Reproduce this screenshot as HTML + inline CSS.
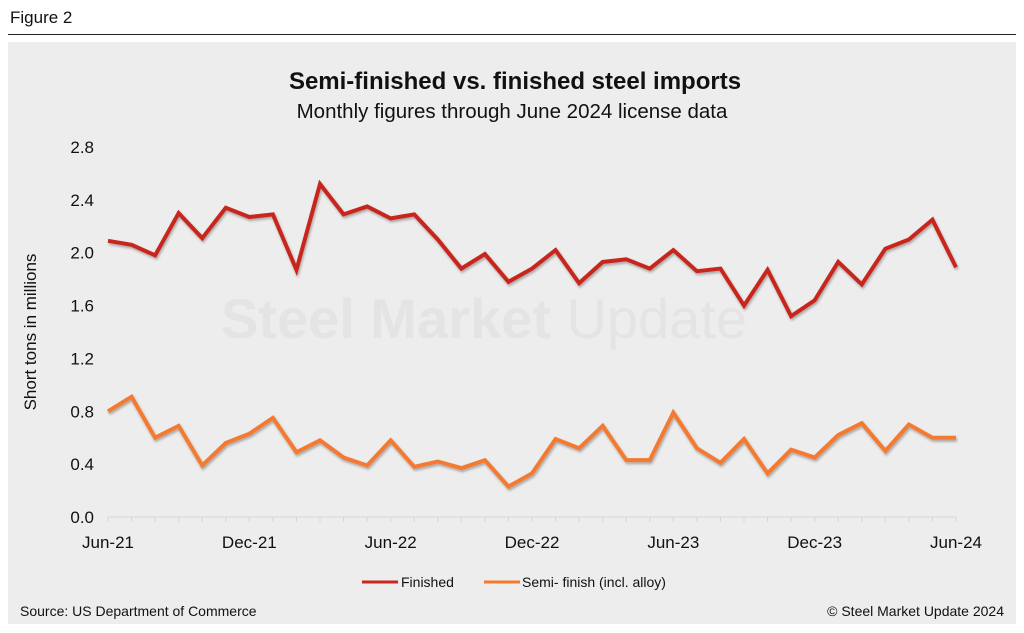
<!DOCTYPE html>
<html><head><meta charset="utf-8"><style>
body{margin:0;width:1024px;height:633px;background:#fff;font-family:"Liberation Sans",sans-serif;overflow:hidden}
</style></head><body>
<div style="position:absolute;left:10px;top:8px;font-size:17px;color:#111">Figure 2</div>
<div style="position:absolute;left:8px;top:34px;width:1008px;height:1px;background:#222"></div>
<div style="position:absolute;left:8px;top:42px;width:1008px;height:582px;background:#ededed"></div>
<svg width="1024" height="633" style="position:absolute;left:0;top:0" font-family="Liberation Sans, sans-serif">
<defs><filter id="sh" x="-5%" y="-20%" width="110%" height="140%"><feDropShadow dx="1" dy="2" stdDeviation="1.2" flood-color="#000" flood-opacity="0.3"/></filter></defs>
<text x="515" y="89" text-anchor="middle" font-size="24" font-weight="bold" fill="#111">Semi-finished vs. finished steel imports</text>
<text x="512" y="118" text-anchor="middle" font-size="20.5" fill="#111">Monthly figures through June 2024 license data</text>
<text x="484" y="338" text-anchor="middle" font-size="56" font-weight="bold" fill="#e4e4e4">Steel Market <tspan font-weight="normal">Update</tspan></text>
<text transform="translate(36,332) rotate(-90)" text-anchor="middle" font-size="17" fill="#111">Short tons in millions</text>
<line x1="108" y1="517" x2="956" y2="517" stroke="#d6d6d6" stroke-width="1"/>
<g id="xtickmarks"></g>
<g id="yticks"></g><g id="xticks"></g><g id="lines"></g>
<line x1="362" y1="582" x2="398" y2="582" stroke="#c8281e" stroke-width="3"/>
<text x="401" y="587" font-size="14" fill="#111">Finished</text>
<line x1="484" y1="582" x2="520" y2="582" stroke="#f47a30" stroke-width="3"/>
<text x="522" y="587" font-size="14" fill="#111">Semi- finish (incl. alloy)</text>
<text x="20" y="616" font-size="14" fill="#111">Source: US Department of Commerce</text>
<text x="1004" y="616" text-anchor="end" font-size="14" fill="#111">© Steel Market Update 2024</text>
</svg>
<script>
const xLabels=["Jun-21","Dec-21","Jun-22","Dec-22","Jun-23","Dec-23","Jun-24"];
const yTicks=[0,0.4,0.8,1.2,1.6,2.0,2.4,2.8];
const finished=[2.09,2.06,1.98,2.30,2.11,2.34,2.27,2.29,1.87,2.52,2.29,2.35,2.26,2.29,2.10,1.88,1.99,1.78,1.88,2.02,1.77,1.93,1.95,1.88,2.02,1.86,1.88,1.60,1.87,1.52,1.64,1.93,1.76,2.03,2.10,2.25,1.89];
const semi=[0.80,0.91,0.60,0.69,0.39,0.56,0.63,0.75,0.49,0.58,0.45,0.39,0.58,0.38,0.42,0.37,0.43,0.23,0.33,0.59,0.52,0.69,0.43,0.43,0.79,0.52,0.41,0.59,0.33,0.51,0.45,0.62,0.71,0.50,0.70,0.60,0.60];
const NS="http://www.w3.org/2000/svg";
const x=i=>108+i*(956-108)/36;
const y=v=>517-v*(517-147)/2.8;
const tg=document.getElementById('xtickmarks');
finished.forEach((v,i)=>{const t=document.createElementNS(NS,'line');


t.setAttribute('x1',x(i));t.setAttribute('x2',x(i));t.setAttribute('y1',517);t.setAttribute('y2',522);t.setAttribute('stroke','#d6d6d6');t.setAttribute('stroke-width','1');tg.appendChild(t);});
const yg=document.getElementById('yticks');
yTicks.forEach(t=>{const e=document.createElementNS(NS,'text');


e.setAttribute('x',94);e.setAttribute('y',y(t)+6);e.setAttribute('text-anchor','end');e.setAttribute('font-size','17');e.setAttribute('fill','#111');e.textContent=t.toFixed(1);yg.appendChild(e);});
const xg=document.getElementById('xticks');
xLabels.forEach((l,k)=>{const e=document.createElementNS(NS,'text');


e.setAttribute('x',x(k*6));e.setAttribute('y',548);e.setAttribute('text-anchor','middle');e.setAttribute('font-size','17');e.setAttribute('fill','#111');e.textContent=l;xg.appendChild(e);});
const lg=document.getElementById('lines');
function line(d,c,name){const p=document.createElementNS(NS,'polyline');


p.setAttribute('points',d.map((v,i)=>x(i)+','+y(v)).join(' '));p.setAttribute('fill','none');p.setAttribute('stroke',c);p.setAttribute('stroke-width','4');p.setAttribute('stroke-linejoin','miter');p.setAttribute('filter','url(#sh)');lg.appendChild(p);}
line(finished,'#c8281e','finished-line');
line(semi,'#f47a30','semi-finished-line');
</script>
</body></html>
